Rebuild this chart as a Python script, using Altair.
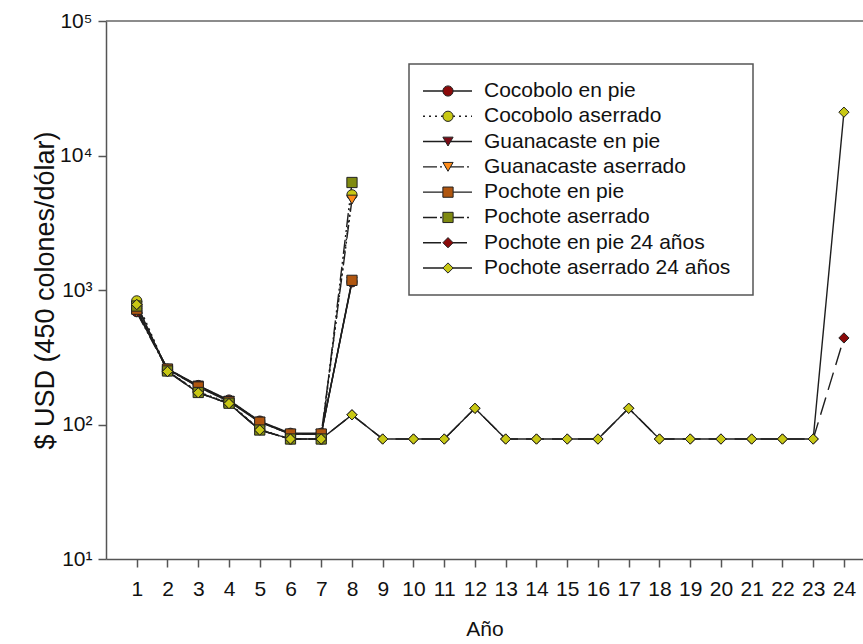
import altair as alt
import pandas as pd

# Years on the horizontal axis
anos_corto = [1, 2, 3, 4, 5, 6, 7, 8]
anos_largo = list(range(1, 25))

# Value (USD) per year for each scenario
cocobolo_en_pie = [690, 258, 195, 152, 106, 86, 86, 1150]
cocobolo_aserrado = [830, 250, 175, 145, 92, 78, 78, 5100]
guanacaste_en_pie = [700, 260, 195, 150, 105, 85, 85, 1150]
guanacaste_aserrado = [680, 255, 192, 150, 104, 85, 85, 4700]
pochote_en_pie = [720, 258, 190, 148, 104, 85, 85, 1180]
pochote_aserrado = [760, 250, 173, 144, 91, 78, 78, 6300]
pochote_en_pie_24 = [780, 248, 172, 143, 91, 78, 78, 118, 78, 78, 78, 132,
                     78, 78, 78, 78, 132, 78, 78, 78, 78, 78, 78, 440]
pochote_aserrado_24 = [780, 248, 172, 143, 91, 78, 78, 118, 78, 78, 78, 132,
                       78, 78, 78, 78, 132, 78, 78, 78, 78, 78, 78, 21000]

series = [
    "Cocobolo en pie",
    "Cocobolo aserrado",
    "Guanacaste en pie",
    "Guanacaste aserrado",
    "Pochote en pie",
    "Pochote aserrado",
    "Pochote en pie 24 años",
    "Pochote aserrado 24 años",
]
valores = [cocobolo_en_pie, cocobolo_aserrado, guanacaste_en_pie, guanacaste_aserrado,
           pochote_en_pie, pochote_aserrado, pochote_en_pie_24, pochote_aserrado_24]
anos_serie = [anos_corto] * 6 + [anos_largo] * 2

# Marker styling per series
rellenos = ["#8b0a0a", "#c8c814", "#7a0a14", "#ff8c1a",
            "#b0560f", "#7f8a10", "#8b0a0a", "#c8c814"]
formas = ["circle", "circle", "triangle-down", "triangle-down",
          "square", "square", "diamond", "diamond"]
tamanos = [105, 105, 115, 115, 100, 100, 150, 150]
trazos = [[1, 0], [2, 4], [1, 0], [14, 3, 2, 3, 2, 3],
          [1, 0], [14, 3, 2, 3, 2, 3], [18, 8], [1, 0]]

etiquetas_y = ["10¹", "10²", "10³", "10⁴", "10⁵"]
marcas_y = [10, 100, 1000, 10000, 100000]

filas = []
for nombre, anos, vals in zip(series, anos_serie, valores):
    for a, v in zip(anos, vals):
        filas.append({"serie": nombre, "ano": a, "valor": v})
df = pd.DataFrame(filas)
leyenda_df = pd.DataFrame({"serie": series, "orden": list(range(len(series)))})

FUENTE = "Liberation Sans"
escala_y = alt.Scale(type="log", domain=[10, 100000], nice=False)
escala_x = alt.Scale(domain=[0, 24.62], nice=False, zero=False)
dash = alt.StrokeDash("serie:N", scale=alt.Scale(domain=series, range=trazos), legend=None)
forma = alt.Shape("serie:N", scale=alt.Scale(domain=series, range=formas), legend=None)
relleno = alt.Fill("serie:N", scale=alt.Scale(domain=series, range=rellenos), legend=None)
tamano = alt.Size("serie:O", scale=alt.Scale(domain=series, range=tamanos), legend=None)

expr_y = " : ".join(
    f"datum.value == {m} ? '{e}'" for m, e in zip(marcas_y, etiquetas_y)
) + " : ''"

eje_x_def = alt.Axis(values=anos_largo, tickSize=8, labelPadding=11, titlePadding=19,
                     grid=False, labelFlush=False, labelOverlap=False, labelBound=False)
eje_x = alt.X("ano:Q", scale=escala_x, title="Año", axis=eje_x_def)
eje_y = alt.Y(
    "valor:Q", scale=escala_y, title="$ USD (450 colones/dólar)",
    axis=alt.Axis(values=marcas_y, labelExpr=expr_y, tickSize=8, labelPadding=6,
                  titlePadding=0, grid=False, titleFontSize=27),
)

techo = alt.Chart(pd.DataFrame({"tope": [100000]})).mark_rule(
    color="#666666", strokeWidth=1.5
).encode(y=alt.Y("tope:Q", scale=escala_y, axis=None))

lineas = alt.Chart(df).mark_line(color="#1e1e1e", strokeWidth=1.4).encode(
    x=eje_x, y=eje_y, strokeDash=dash, detail="serie:N", order="ano:Q"
)

puntos = alt.Chart(df).mark_point(
    filled=True, opacity=1, stroke="#222222", strokeWidth=1
).encode(
    x=alt.X("ano:Q", scale=escala_x, title="Año", axis=eje_x_def),
    y=alt.Y("valor:Q", scale=escala_y, axis=None),
    shape=forma, fill=relleno, size=tamano,
)

# Legend box with line sample, marker and label per series
caja = alt.Chart(pd.DataFrame({"c": [0]})).mark_rect(
    fill="white", stroke="#555555", strokeWidth=1.5
).encode(x=alt.value(303), x2=alt.value(647), y=alt.value(43), y2=alt.value(274))

leg_y = alt.Y("orden:Q", scale=alt.Scale(domain=[0, 7], range=[70, 247]), axis=None)

leg_lineas = alt.Chart(leyenda_df).mark_rule(color="#1e1e1e", strokeWidth=1.4).encode(
    x=alt.value(317), x2=alt.value(366), y=leg_y, strokeDash=dash
)
leg_puntos = alt.Chart(leyenda_df).mark_point(
    filled=True, opacity=1, stroke="#222222", strokeWidth=1
).encode(x=alt.value(342), y=leg_y, shape=forma, fill=relleno, size=tamano)
leg_texto = alt.Chart(leyenda_df).mark_text(
    align="left", baseline="middle", font=FUENTE, fontSize=21, color="#111111"
).encode(x=alt.value(378), y=leg_y, text="serie:N")

chart = alt.layer(
    techo, lineas, puntos, caja, leg_lineas, leg_puntos, leg_texto
).resolve_scale(
    y="independent"
).properties(
    width=757, height=538,
    padding={"left": 106, "top": 21, "right": 0, "bottom": 85},
    autosize=alt.AutoSizeParams(type="none"),
).configure_view(
    stroke=None
).configure_axis(
    labelFont=FUENTE, titleFont=FUENTE, labelFontSize=21, titleFontSize=21,
    labelColor="#111111", titleColor="#111111", titleFontWeight="normal",
    domainColor="#555555", tickColor="#555555", domainWidth=1.5, tickWidth=1.5,
)

chart.save("out.html", embed_options={"renderer": "svg", "actions": False})
